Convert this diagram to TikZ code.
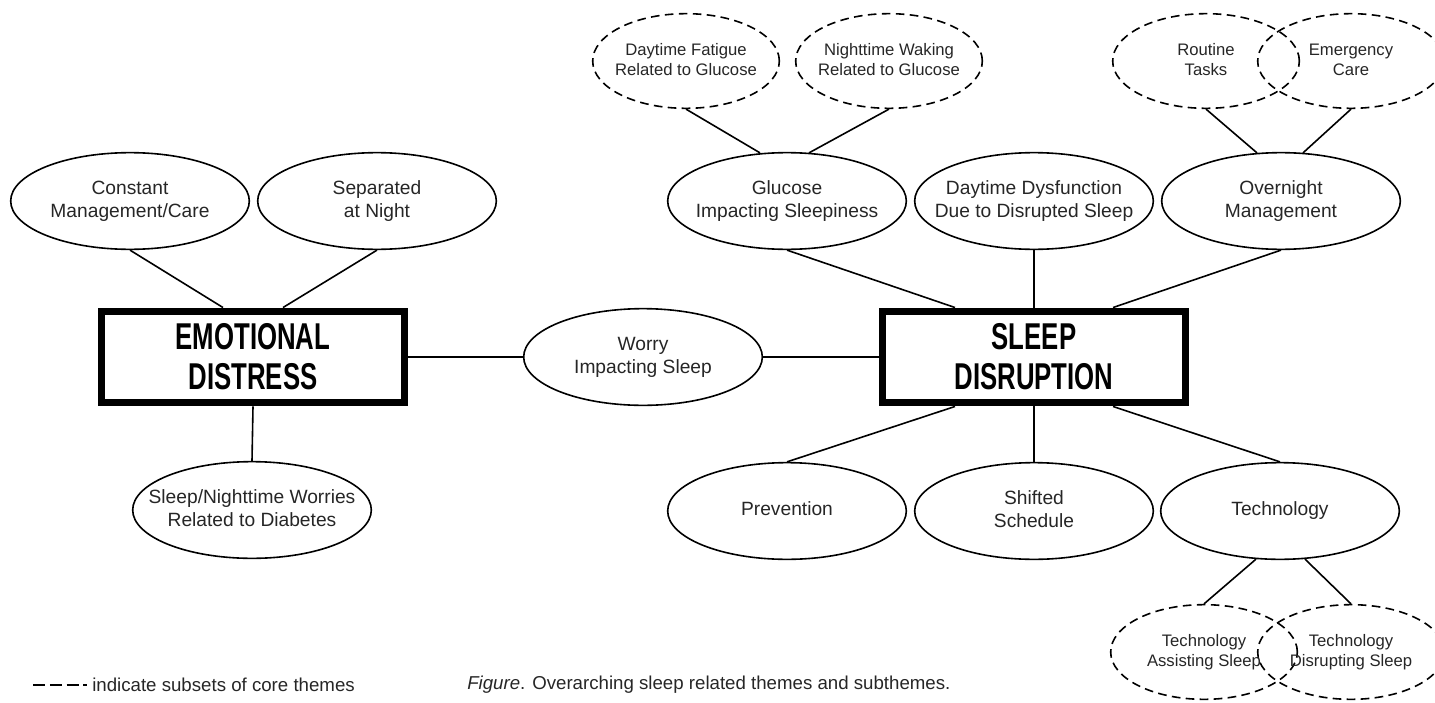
\documentclass[tikz,border=0pt]{standalone}
\usepackage{fontspec}
\setmainfont{Liberation Sans}
\newfontfamily\themefont[FakeStretch=0.69]{Liberation Sans}
\usetikzlibrary{positioning, shapes.geometric, calc}
\newcommand{\ovaltext}[1]{\makebox[0pt]{\begin{tabular}{@{}c@{}}#1\end{tabular}}}

\begin{document}
\begin{tikzpicture}[x=0.75pt, y=-0.75pt,
  theme/.style={rectangle, draw, line width=5.6pt, minimum width=227.6pt,
    minimum height=68.6pt, inner sep=0pt, align=center,
    font=\themefont\bfseries\fontsize{28}{30}\selectfont},
  subtheme/.style={ellipse, draw, line width=1.2pt, minimum width=179pt,
    minimum height=72.5pt, inner sep=0pt, text=black!85,
    font=\fontsize{14.4}{17.3}\selectfont},
  subset/.style={ellipse, draw, line width=1.2pt, dash pattern=on 6.5pt off 4pt,
    minimum width=140pt, minimum height=71pt, inner sep=0pt, text=black!85,
    font=\fontsize{12.5}{15}\selectfont},
  link/.style={line width=1.2pt},
]
  \useasboundingbox (0,0) rectangle (1435,703);

  % core themes
  \node[theme] (ed) at (253,357) {EMOTIONAL\\DISTRESS};
  \node[theme] (sd) at (1034,357) {SLEEP\\DISRUPTION};

  % subthemes
  \node[subtheme] (con) at (130,201) {\ovaltext{Constant\\Management/Care}};
  \node[subtheme] (sep) at (377,201) {\ovaltext{Separated\\at Night}};
  \node[subtheme] (snw) at (252,510) {\ovaltext{Sleep/Nighttime Worries\\Related to Diabetes}};
  \node[subtheme] (wor) at (643,357) {\ovaltext{Worry\\Impacting Sleep}};
  \node[subtheme] (glu) at (787,201) {\ovaltext{Glucose\\Impacting Sleepiness}};
  \node[subtheme] (ddf) at (1034,201) {\ovaltext{Daytime Dysfunction\\Due to Disrupted Sleep}};
  \node[subtheme] (ovn) at (1281,201) {\ovaltext{Overnight\\Management}};
  \node[subtheme] (prv) at (787,511) {\ovaltext{Prevention}};
  \node[subtheme] (shf) at (1034,511) {\ovaltext{Shifted\\Schedule}};
  \node[subtheme] (tec) at (1280,511) {\ovaltext{Technology}};

  % subsets
  \node[subset] (dfg) at (686,61) {\ovaltext{Daytime Fatigue\\Related to Glucose}};
  \node[subset] (nwk) at (889,61) {\ovaltext{Nighttime Waking\\Related to Glucose}};
  \node[subset] (rtn) at (1206,61) {\ovaltext{Routine\\Tasks}};
  \node[subset] (emc) at (1351,61) {\ovaltext{Emergency\\Care}};
  \node[subset] (tas) at (1204,652) {\ovaltext{Technology\\Assisting Sleep}};
  \node[subset] (tds) at (1351,652) {\ovaltext{Technology\\Disrupting Sleep}};

  % connectors
  \draw[link] (con.south) -- ($(ed.north)+(-30,0)$);
  \draw[link] (sep.south) -- ($(ed.north)+(30,0)$);
  \draw[link] (ed.south) -- (snw.north);
  \draw[link] (ed.east) -- (wor.west);
  \draw[link] (wor.east) -- (sd.west);
  \draw[link] (glu.south) -- ($(sd.north)+(-79,0)$);
  \draw[link] (ddf.south) -- (sd.north);
  \draw[link] (ovn.south) -- ($(sd.north)+(79,0)$);
  \draw[link] ($(sd.south)+(-79,0)$) -- (prv.north);
  \draw[link] (sd.south) -- (shf.north);
  \draw[link] ($(sd.south)+(79,0)$) -- (tec.north);
  \draw[link] (dfg.south) -- ($(glu.north)+(-27,1)$);
  \draw[link] (nwk.south) -- ($(glu.north)+(22,1)$);
  \draw[link] (rtn.south) -- ($(ovn.north)+(-24,1)$);
  \draw[link] (emc.south) -- ($(ovn.north)+(22,1)$);
  \draw[link] ($(tec.south)+(-24,-1)$) -- (tas.north);
  \draw[link] ($(tec.south)+(25,-1)$) -- (tds.north);

  % legend and caption
  \node[anchor=west, inner sep=0pt, text=black!85, font=\fontsize{14}{17}\selectfont]
    (leg) at (92,685) {indicate subsets of core themes};
  \coordinate (legdash) at (33,685);
  \draw[line width=1.2pt, dash pattern=on 9pt off 3.6pt] (legdash) -- ([xshift=-4pt]leg.west);
  \node[anchor=west, inner sep=0pt, text=black!85, font=\fontsize{14}{17}\selectfont]
    (cap) at (467,685) {\textit{Figure}. Overarching sleep related themes and subthemes.};
\end{tikzpicture}
\end{document}
